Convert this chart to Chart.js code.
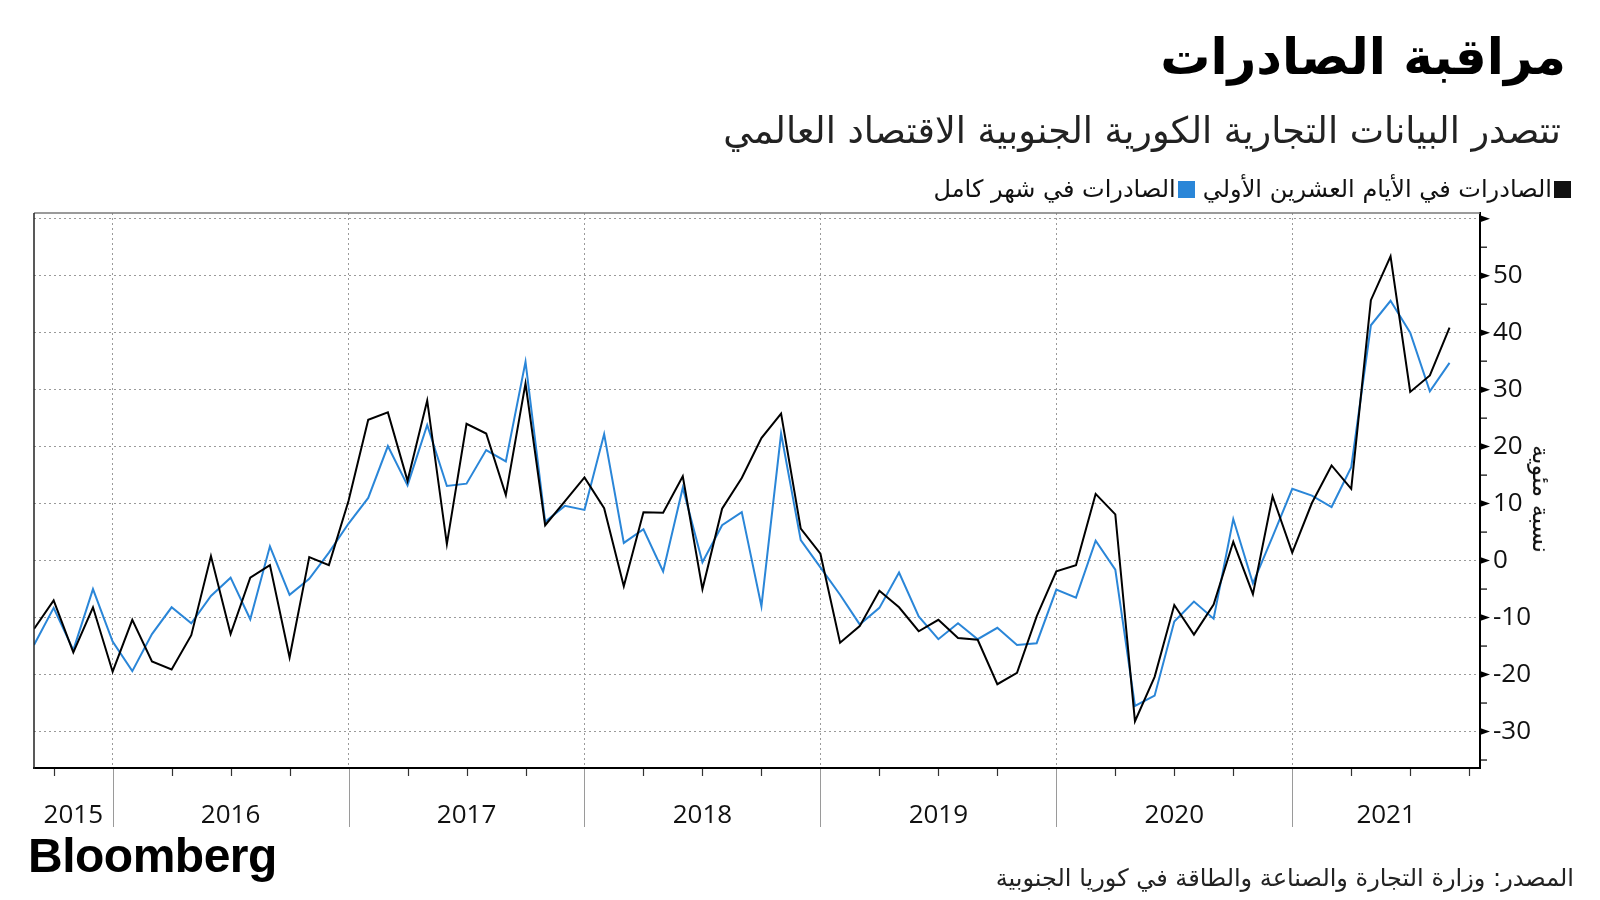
<!DOCTYPE html>
<html lang="ar">
<head>
<meta charset="utf-8">
<script src="https://cdn.jsdelivr.net/npm/chart.js@4.4.1/dist/chart.umd.min.js"></script>
<style>
  html, body { margin: 0; padding: 0; background: #fff; }
  #wrap { position: relative; width: 1600px; height: 900px; overflow: hidden; }
  canvas { position: absolute; left: 0; top: 0; }
  .ar { position: absolute; font-family: "DejaVu Sans", sans-serif; color: #111; white-space: nowrap; direction: rtl; line-height: 1; }
  #title { right: 34px; top: 32px; font-size: 50px; font-weight: bold; color: #000; }
  #subtitle { right: 39px; top: 113px; font-size: 36.5px; color: #222; }
  #legend { right: 29px; top: 177px; font-size: 24px; display: flex; align-items: center; }
  #legend .sq { display: inline-block; width: 17px; height: 17px; margin-left: 2px; }
  #legend .gap { width: 8px; }
  #source { right: 26px; top: 866px; font-size: 24px; color: #222; }
  #ytitle { left: 1541px; top: 499px; font-size: 24px; transform: translate(-50%, -50%) rotate(90deg); }
  #logo { position: absolute; left: 28px; top: 832px; font-family: "Liberation Sans", Arial, sans-serif; font-weight: bold; font-size: 48px; line-height: 1; letter-spacing: -0.5px; color: #000; }
</style>
</head>
<body>
<div id="wrap">
  <canvas id="chart" width="1600" height="900"></canvas>
  <div class="ar" id="title">مراقبة الصادرات</div>
  <div class="ar" id="subtitle">تتصدر البيانات التجارية الكورية الجنوبية الاقتصاد العالمي</div>
  <div class="ar" id="legend">
    <span class="sq" style="background:#111"></span><span>الصادرات في الأيام العشرين الأولي</span>
    <span class="gap"></span>
    <span class="sq" style="background:#2a86d8"></span><span>الصادرات في شهر كامل</span>
  </div>
  <div class="ar" id="ytitle">نسبة مئوية</div>
  <div class="ar" id="source">المصدر: وزارة التجارة والصناعة والطاقة في كوريا الجنوبية</div>
  <div id="logo">Bloomberg</div>
</div>
<script>
// monthly points, Aug 2015 .. Aug 2021 (index 0 = Aug 2015)
const first20Days = [
  -12.0, -7.0, -16.1, -8.2, -19.5, -10.4, -17.7, -19.1, -13.1, 0.8, -12.9, -3.0,
  -0.8, -17.0, 0.6, -0.8, 10.5, 24.7, 26.0, 14.0, 28.1, 2.9, 24.0, 22.3,
  11.5, 31.1, 6.2, 10.4, 14.6, 9.2, -4.5, 8.5, 8.4, 14.8, -5.0, 9.1,
  14.5, 21.5, 25.8, 5.6, 1.2, -14.4, -11.5, -5.3, -8.2, -12.4, -10.4, -13.6,
  -13.9, -21.7, -19.7, -9.8, -1.9, -0.8, 11.7, 8.1, -28.2, -20.4, -7.8, -13.0,
  -7.7, 3.3, -5.9, 11.3, 1.4, 10.1, 16.7, 12.6, 45.7, 53.4, 29.6, 32.5,
  40.9
];
const fullMonth = [
  -14.8, -8.3, -15.7, -5.0, -14.2, -19.4, -12.9, -8.2, -11.0, -6.2, -3.0, -10.3,
  2.5, -6.0, -3.2, 1.4, 6.5, 11.0, 20.1, 13.2, 23.8, 13.1, 13.5, 19.4,
  17.4, 34.9, 6.8, 9.6, 8.9, 22.2, 3.1, 5.5, -1.9, 12.8, -0.3, 6.2,
  8.5, -8.0, 22.3, 3.6, -1.2, -6.0, -11.2, -8.3, -2.1, -9.8, -13.8, -11.0,
  -13.8, -11.8, -14.8, -14.5, -5.1, -6.5, 3.5, -1.6, -25.5, -23.7, -10.7, -7.2,
  -10.2, 7.3, -4.0, 4.2, 12.6, 11.4, 9.4, 16.4, 41.3, 45.6, 40.0, 29.7,
  34.7
];
const years = ["2015", "2016", "2017", "2018", "2019", "2020", "2021"];
const seriesNames = ["الصادرات في الأيام العشرين الأولي", "الصادرات في شهر كامل"];

const X_MAX = 73.55;      // axis runs a little past the last month
const FIRST_YEAR_END = 4; // Dec 2015 sits at index 4
const Y_MIN = -36.4, Y_MAX = 61;

const quarterTicks = [];
for (let v = 1; v <= X_MAX; v += 3) quarterTicks.push(v);
const yearCenters = years.map((_, k) => {
  const s = Math.max(0, FIRST_YEAR_END + 12 * (k - 1));
  const e = Math.min(X_MAX, FIRST_YEAR_END + 12 * k);
  return (s + e) / 2;
});
const yTicks = [];
for (let v = -35; v <= 60; v += 5) yTicks.push(v);

const isYearEnd = (v) => (v - FIRST_YEAR_END) % 12 === 0;
const tickFont = { family: "Open Sans", size: 26 };

const axisMarks = {
  id: "axisMarks",
  afterDraw(chart) {
    const { ctx, chartArea: a, scales } = chart;
    const x = scales.x, y = scales.y;
    ctx.save();
    // top and left frame
    ctx.lineWidth = 1.5;
    ctx.strokeStyle = "#7a7a7a";
    ctx.beginPath(); ctx.moveTo(a.left, a.top); ctx.lineTo(a.right, a.top); ctx.stroke();
    ctx.strokeStyle = "#222";
    ctx.beginPath(); ctx.moveTo(a.left, a.top); ctx.lineTo(a.left, a.bottom + 1); ctx.stroke();
    // x: quarter ticks and year separators
    quarterTicks.forEach((v) => {
      const px = Math.round(x.getPixelForValue(v)) + 0.5;
      ctx.beginPath();
      if (isYearEnd(v)) {
        ctx.strokeStyle = "#9a9a9a"; ctx.lineWidth = 1;
        ctx.moveTo(px, a.bottom + 1); ctx.lineTo(px, 827);
      } else {
        ctx.strokeStyle = "#333"; ctx.lineWidth = 1.2;
        ctx.moveTo(px, a.bottom + 1); ctx.lineTo(px, a.bottom + 8);
      }
      ctx.stroke();
    });
    // y: triangles on tens, short ticks on fives
    ctx.fillStyle = "#000"; ctx.strokeStyle = "#000"; ctx.lineWidth = 1.2;
    yTicks.forEach((v) => {
      const py = y.getPixelForValue(v);
      if (v % 10 === 0) {
        ctx.beginPath();
        ctx.moveTo(a.right, py - 3.5); ctx.lineTo(a.right + 10, py); ctx.lineTo(a.right, py + 3.5);
        ctx.closePath(); ctx.fill();
      } else {
        ctx.beginPath(); ctx.moveTo(a.right, py); ctx.lineTo(a.right + 7, py); ctx.stroke();
      }
    });
    ctx.restore();
  }
};

const toPoints = (arr) => arr.map((v, i) => ({ x: i, y: v }));

new Chart(document.getElementById("chart").getContext("2d"), {
  type: "line",
  data: {
    datasets: [
      { label: seriesNames[0], data: toPoints(first20Days), borderColor: "#000", borderWidth: 2, pointRadius: 0, tension: 0, order: 0 },
      { label: seriesNames[1], data: toPoints(fullMonth), borderColor: "#2a86d8", borderWidth: 2, pointRadius: 0, tension: 0, order: 1 },
    ],
  },
  options: {
    responsive: false,
    animation: false,
    devicePixelRatio: 1,
    layout: { padding: { left: 34, top: 213, right: 0, bottom: 0 } },
    plugins: { legend: { display: false }, tooltip: { enabled: false } },
    scales: {
      x: {
        type: "linear", position: "bottom", weight: 0, min: 0, max: X_MAX,
        afterBuildTicks: (s) => { s.ticks = quarterTicks.map((v) => ({ value: v })); },
        ticks: { display: false },
        grid: { drawTicks: false, lineWidth: 1, color: (c) => (c.tick && isYearEnd(c.tick.value) ? "#9a9a9a" : "rgba(0,0,0,0)") },
        border: { color: "#000", width: 2, dash: [2, 3] },
        afterFit: (s) => { s.height = 0; },
      },
      yr: {
        type: "linear", position: "bottom", weight: 1, min: 0, max: X_MAX,
        afterBuildTicks: (s) => { s.ticks = yearCenters.map((v) => ({ value: v })); },
        ticks: { callback: (v, i) => years[i], font: tickFont, color: "#111", padding: 32, maxRotation: 0, autoSkip: false },
        grid: { display: false, drawTicks: false },
        border: { display: false },
        afterFit: (s) => { s.height = 132; },
      },
      y: {
        position: "right", min: Y_MIN, max: Y_MAX,
        afterBuildTicks: (s) => { s.ticks = yTicks.map((v) => ({ value: v })); },
        ticks: { callback: (v) => (v % 10 === 0 && v !== 60 ? String(v) : ""), font: tickFont, color: "#111", padding: 13, autoSkip: false },
        grid: { drawTicks: false, lineWidth: 1, color: (c) => (c.tick && c.tick.value % 10 === 0 ? "#9a9a9a" : "rgba(0,0,0,0)") },
        border: { color: "#000", width: 2, dash: [2, 3] },
        afterFit: (s) => { s.width = 120; },
      },
    },
  },
  plugins: [axisMarks],
});
</script>
</body>
</html>
